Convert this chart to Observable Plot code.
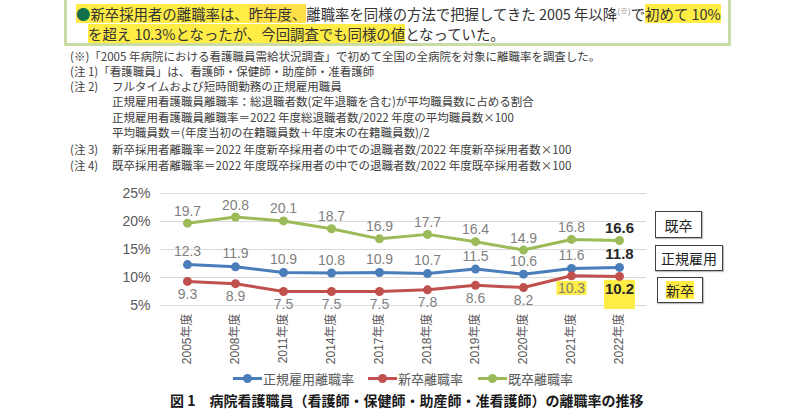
<!DOCTYPE html>
<html><head><meta charset="utf-8">
<script src="https://cdn.jsdelivr.net/npm/d3@7"></script>
<script src="https://cdn.jsdelivr.net/npm/@observablehq/plot@0.6"></script>
<style>
html,body{margin:0;padding:0;}
body{width:800px;height:419px;position:relative;background:#fff;overflow:hidden;font-family:"Noto Sans CJK JP","Liberation Sans",sans-serif;}
.abs{position:absolute;white-space:nowrap;}
#box{position:absolute;left:64px;top:-4px;width:661px;height:44px;border:3px solid #c9dca6;}
.hl,.hl2{display:inline-block;line-height:19px;height:19px;vertical-align:top;}
.hl{background:#ffec45;}
.hl2{background:#ffe04a;}
.bul{color:#12714a;}
.top{font-size:14.4px;line-height:19px;height:19px;color:#333;}
.top sup{font-size:8px;color:#777;line-height:0;vertical-align:6px;}
.note{font-size:11.5px;line-height:15px;color:#404040;}
.tag{position:absolute;border:1.5px solid #404040;box-sizing:border-box;font-size:14px;color:#222;display:flex;align-items:center;justify-content:center;background:#fff;box-shadow:1px 1px 1px rgba(0,0,0,0.25);}
.tag .hl{line-height:18px;height:18px;}
.leg{font-size:13px;color:#595959;display:flex;align-items:center;}
.mk{display:inline-block;position:relative;width:29px;height:3px;margin-right:1px;}
.mk i{position:absolute;left:10px;top:-3px;width:9px;height:9px;border-radius:50%;}
#cap{font-size:14px;font-weight:bold;color:#1a1a1a;}
#chart{position:absolute;left:0;top:180px;}
</style></head>
<body>
<div id="box"></div>
<div class="abs top" style="left:76px;top:4px;"><span class="hl"><span class="bul">●</span>新卒採用者の離職率は、</span><span class="hl2">昨年度、</span>離職率を同様の方法で把握してきた 2005 年以降<sup>(※)</sup>で<span class="hl">初めて 10%</span></div>
<div class="abs top" style="left:88px;top:24px;"><span class="hl">を超え 10.3%となったが、今回調査でも同様の値</span>となっていた。</div>

<div id="notes"></div>
<div id="chart"></div>
<div class="tag" style="left:655px;top:211px;width:47px;height:27px;">既卒</div>
<div class="tag" style="left:655px;top:245px;width:68px;height:26px;">正規雇用</div>
<div class="tag" style="left:657px;top:277px;width:46px;height:26px;"><span class="hl">新卒</span></div>
<div id="legend"></div>
<div id="cap" class="abs" style="left:170px;top:390px;">図 1　病院看護職員（看護師・保健師・助産師・准看護師）の離職率の推移</div>
<script>
const years = ["2005年度","2008年度","2011年度","2014年度","2017年度","2018年度","2019年度","2020年度","2021年度","2022年度"];
const regular = [12.3,11.9,10.9,10.8,10.9,10.7,11.5,10.6,11.6,11.8];
const newGrad = [9.3,8.9,7.5,7.5,7.5,7.8,8.6,8.2,10.3,10.2];
const experienced = [19.7,20.8,20.1,18.7,16.9,17.7,16.4,14.9,16.8,16.6];
const seriesNames = ["正規雇用離職率","新卒離職率","既卒離職率"];
const seriesColors = ["#4a7ebb","#c0504d","#9bbb59"];
const yTicks = [5,10,15,20,25];
const hlYears = ["2021年度","2022年度"];
const hlTop = [9.3,9.5];
const hlBottom = [6.8,4.3];
const hlWidth = [30,31];
const notes = [
  ["(※)「2005 年病院における看護職員需給状況調査」で初めて全国の全病院を対象に離職率を調査した。",70],
  ["(注 1)「看護職員」は、看護師・保健師・助産師・准看護師",70],
  ["(注 2)",70,"フルタイムおよび短時間勤務の正規雇用職員"],
  ["正規雇用看護職員離職率：総退職者数(定年退職を含む)が平均職員数に占める割合",112],
  ["正規雇用看護職員離職率＝2022 年度総退職者数/2022 年度の平均職員数×100",112],
  ["平均職員数＝(年度当初の在籍職員数＋年度末の在籍職員数)/2",112],
  ["(注 3)",70,"新卒採用者離職率＝2022 年度新卒採用者の中での退職者数/2022 年度新卒採用者数×100"],
  ["(注 4)",70,"既卒採用者離職率＝2022 年度既卒採用者の中での退職者数/2022 年度既卒採用者数×100"]
];
const noteTops = [49,64,79,94,110,125,142,158];

const nb = document.getElementById("notes");
notes.forEach((n,i)=>{
  const d = document.createElement("div");
  d.className="abs note"; d.style.left=n[1]+"px"; d.style.top=noteTops[i]+"px"; d.textContent=n[0];
  nb.appendChild(d);
  if(n[2]){const e=document.createElement("div"); e.className="abs note"; e.style.left="112px"; e.style.top=noteTops[i]+"px"; e.textContent=n[2]; nb.appendChild(e);}
});

const seriesVals = [regular,newGrad,experienced];
const data = [];
seriesNames.forEach((s,si)=>years.forEach((y,i)=>data.push({year:y,value:seriesVals[si][i],series:s,last:i===years.length-1})));
const hl = hlYears.map((y,i)=>({year:y,top:hlTop[i],bottom:hlBottom[i],w:hlWidth[i]}));
const dys = [-13,13,-12];

const marks = [
  Plot.gridY(yTicks,{stroke:"#d9d9d9",strokeOpacity:1,strokeWidth:1}),
  ...hl.map(h=>Plot.ruleX([h],{x:"year",y1:"top",y2:"bottom",stroke:"#ffec45",strokeWidth:h.w})),
  Plot.line(data,{x:"year",y:"value",z:"series",stroke:"series",strokeWidth:3}),
  Plot.dot(data,{x:"year",y:"value",fill:"series",r:4.5}),
  ...seriesNames.map((s,si)=>Plot.text(data.filter(d=>d.series===s&&!d.last),{x:"year",y:"value",text:d=>d.value.toFixed(1),dy:dys[si],fill:"#7f7f7f",fontSize:14,fontFamily:"Liberation Sans"})),
  ...seriesNames.map((s,si)=>Plot.text(data.filter(d=>d.series===s&&d.last),{x:"year",y:"value",text:d=>d.value.toFixed(1),dy:dys[si],fill:"#262626",fontSize:15,fontWeight:"bold",fontFamily:"Liberation Sans"})),
  Plot.axisY(yTicks,{tickSize:0,tickPadding:10,tickFormat:d=>d+"%",fontSize:14,fill:"#595959",fontFamily:"Liberation Sans",label:null}),
  Plot.axisX({tickRotate:-90,tickSize:0,tickPadding:8,fontSize:12,fill:"#595959",label:null,fontFamily:"Liberation Sans, Noto Sans CJK JP"})
];
const chart = Plot.plot({
  width:800,height:188,marginLeft:160,marginRight:154,marginTop:13,marginBottom:63,
  style:{background:"transparent",overflow:"visible"},
  x:{type:"point",domain:years,padding:0.5},
  y:{domain:[5,25]},
  color:{domain:seriesNames,range:seriesColors},
  marks
});
document.getElementById("chart").appendChild(chart);

const lg = document.getElementById("legend");
const legLeft = [233,368,478];
seriesNames.forEach((s,i)=>{
  const d=document.createElement("div"); d.className="abs leg"; d.style.left=legLeft[i]+"px"; d.style.top="369px";
  d.innerHTML=`<span class="mk" style="background:${seriesColors[i]}"><i style="background:${seriesColors[i]}"></i></span>${s}`;
  lg.appendChild(d);
});
</script>
</body></html>
